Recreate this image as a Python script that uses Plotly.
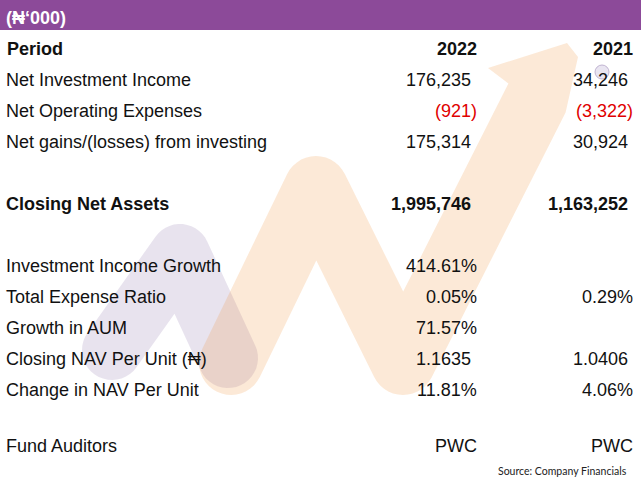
import math
import plotly.graph_objects as go

# ---------------- data ----------------
unit_label = "(₦‘000)"
period_label = "Period"
years = ["2022", "2021"]
row_labels = [
    "Net Investment Income",
    "Net Operating Expenses",
    "Net gains/(losses) from investing",
    "Closing Net Assets",
    "Investment Income Growth",
    "Total Expense Ratio",
    "Growth in AUM",
    "Closing NAV Per Unit (₦)",
    "Change in NAV Per Unit",
    "Fund Auditors",
]
values_2022 = ["176,235", "(921)", "175,314", "1,995,746", "414.61%", "0.05%",
               "71.57%", "1.1635", "11.81%", "PWC"]
values_2021 = ["34,246", "(3,322)", "30,924", "1,163,252", "", "0.29%",
               "", "1.0406", "4.06%", "PWC"]
bold_rows = ["Closing Net Assets"]
source_note = "Source: Company Financials"

# ---------------- layout ----------------
W, H = 644, 486
FONT = "Liberation Sans, Arial, DejaVu Sans, sans-serif"
row_y = [80, 111, 142, 204, 266, 297, 328, 359, 390, 446]
header_y = 49
col_right = [478, 634]
plain_shift = [6, 5]   # accounting-style padding for values w/o trailing ')' or '%'
TEXT = "#111111"
RED = "#e00000"


def _arc(c, r, a0, a1, steps=14):
    # a0 -> a1 going the short way
    d = a1 - a0
    while d > math.pi:
        d -= 2 * math.pi
    while d < -math.pi:
        d += 2 * math.pi
    return [(c[0] + r * math.cos(a0 + d * t / steps), c[1] + r * math.sin(a0 + d * t / steps))
            for t in range(steps + 1)]


def _arc_dir(c, r, a0, a1, sign, steps=20):
    d = a1 - a0
    if sign > 0:
        while d <= 0:
            d += 2 * math.pi
    else:
        while d >= 0:
            d -= 2 * math.pi
    return [(c[0] + r * math.cos(a0 + d * t / steps), c[1] + r * math.sin(a0 + d * t / steps))
            for t in range(steps + 1)]


def _isect(p1, d1, p2, d2):
    den = d1[0] * d2[1] - d1[1] * d2[0]
    t = ((p2[0] - p1[0]) * d2[1] - (p2[1] - p1[1]) * d2[0]) / den
    return (p1[0] + t * d1[0], p1[1] + t * d1[1])


def thick_outline(pts, r, end_points=None):
    segs = []
    for a, b in zip(pts[:-1], pts[1:]):
        L = math.hypot(b[0] - a[0], b[1] - a[1])
        u = ((b[0] - a[0]) / L, (b[1] - a[1]) / L)
        n = (-u[1], u[0])
        segs.append((a, b, u, n))

    def side(sgn):
        out = []
        for i, (a, b, u, n) in enumerate(segs):
            pa = (a[0] + sgn * r * n[0], a[1] + sgn * r * n[1])
            pb = (b[0] + sgn * r * n[0], b[1] + sgn * r * n[1])
            if i == 0:
                out.append(pa)
            if i < len(segs) - 1:
                a2, b2, u2, n2 = segs[i + 1]
                outer = (u2[0] * n[0] + u2[1] * n[1]) * sgn < 0
                if outer:
                    ang0 = math.atan2(sgn * n[1], sgn * n[0])
                    ang1 = math.atan2(sgn * n2[1], sgn * n2[0])
                    out.extend(_arc(b, r, ang0, ang1))
                else:
                    q = (a2[0] + sgn * r * n2[0], a2[1] + sgn * r * n2[1])
                    out.append(_isect(pa, u, q, u2))
            else:
                out.append(pb)
        return out

    plus = side(1)
    minus = side(-1)
    a, b, u, n = segs[-1]
    poly = list(plus)
    if end_points is None:
        ang0 = math.atan2(n[1], n[0])
        ang_mid = math.atan2(u[1], u[0])
        sgn = 1 if math.sin(ang_mid - ang0) > 0 else -1
        poly.extend(_arc_dir(b, r, ang0, ang0 + sgn * math.pi, sgn))
    else:
        poly.extend(end_points)
    poly.extend(reversed(minus))
    a, b, u, n = segs[0]
    ang0 = math.atan2(-n[1], -n[0])
    ang_mid = math.atan2(-u[1], -u[0])
    sgn = 1 if math.sin(ang_mid - ang0) > 0 else -1
    poly.extend(_arc_dir(a, r, ang0, ang0 + sgn * math.pi, sgn))
    return "M " + " L ".join("%.1f %.1f" % p for p in poly) + " Z"


PURPLE = "rgba(120,90,155,0.17)"
ORANGE = "rgba(240,145,55,0.2)"

purple_path = thick_outline([(112, 350), (180, 254), (228, 358)], 30)
orange_path = thick_outline([(231, 363), (316, 188), (403, 363), (537, 98)], 32,
                            end_points=[(578, 57), (567, 43), (488, 68)])

shapes = [
    dict(type="path", path=purple_path, fillcolor=PURPLE, line=dict(width=0),
         layer="below", xref="x", yref="y"),
    dict(type="path", path=orange_path, fillcolor=ORANGE, line=dict(width=0),
         layer="below", xref="x", yref="y"),
    # small registered mark of the watermark
    dict(type="circle", x0=595, x1=609, y0=65, y1=79, xref="x", yref="y",
         fillcolor="rgba(228,222,238,0.8)", line=dict(color="rgba(180,165,200,0.8)", width=1),
         layer="below"),
    # title band
    dict(type="rect", x0=0, x1=641, y0=0, y1=30, xref="x", yref="y",
         fillcolor="#8c4a99", line=dict(width=0), layer="above"),
]

ann = []


def add(text, x, y, anchor, size=18, bold=False, color=TEXT, family=FONT):
    ann.append(dict(text=("<b>%s</b>" % text) if bold else text, x=x, y=y, xref="x", yref="y",
                    xanchor=anchor, yanchor="middle", showarrow=False,
                    font=dict(size=size, color=color, family=family)))


add(unit_label, 4, 18, "left", bold=True, color="white")
add(period_label, 5, header_y, "left", bold=True)
for j, yr in enumerate(years):
    add(yr, col_right[j] + 1, header_y, "right", bold=True)

for i, lab in enumerate(row_labels):
    b = lab in bold_rows
    add(lab, 4, row_y[i], "left", bold=b)
    for j, vals in enumerate([values_2022, values_2021]):
        v = vals[i]
        if not v:
            continue
        x = col_right[j]
        if v[-1].isdigit():
            x -= plain_shift[j]
        color = RED if v.startswith("(") else TEXT
        add(v, x + 1, row_y[i], "right", bold=b, color=color)

add(source_note, 629, 471, "right", size=10.5, color="#222222", family="Lato, Open Sans, sans-serif")

fig = go.Figure()
fig.add_trace(go.Scatter(x=[0, W], y=[0, H], mode="markers", marker=dict(opacity=0),
                         hoverinfo="skip", showlegend=False))
fig.update_layout(
    width=W, height=H, autosize=False,
    margin=dict(l=0, r=0, t=0, b=0),
    paper_bgcolor="white", plot_bgcolor="white",
    xaxis=dict(range=[0, W], visible=False, fixedrange=True),
    yaxis=dict(range=[H, 0], visible=False, fixedrange=True),
    shapes=shapes, annotations=ann, showlegend=False,
)
fig.write_html("out.html", config={"displayModeBar": False},
               post_script="document.body.style.margin='0px';")
